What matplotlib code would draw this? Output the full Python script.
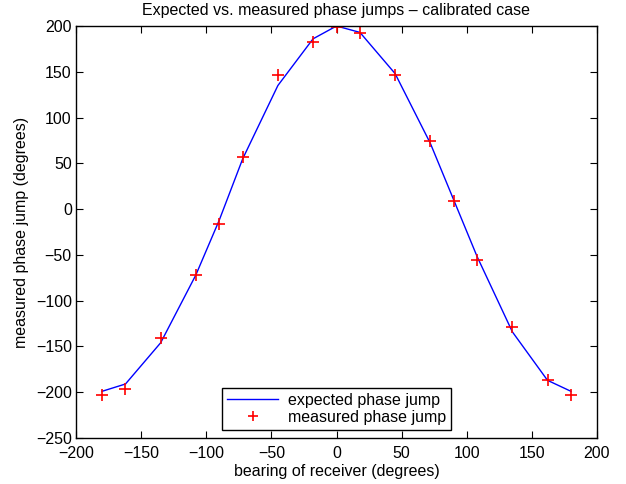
import matplotlib
matplotlib.use("Agg")
import matplotlib.pyplot as plt

plt.rcParams['font.family'] = ['Liberation Sans', 'DejaVu Sans']

bearing = [-180, -162, -135, -108, -90, -72, -45, -18, 0, 18, 45, 72, 90, 108, 135, 162, 180]
expected = [-199, -191, -146, -72, -12, 55, 135, 186, 200, 193, 148, 72, 10, -52, -134, -187, -199]
measured = [-203, -197, -141, -72, -16, 57, 146, 182, 199, 192, 146, 74, 9, -56, -129, -187, -203]

xticks = [-200, -150, -100, -50, 0, 50, 100, 150, 200]
yticks = [-250, -200, -150, -100, -50, 0, 50, 100, 150, 200]

W, H = 626, 484
fig = plt.figure(figsize=(W / 100, H / 100), dpi=100)
ax = fig.add_axes([76 / W, (H - 438) / H, (597 - 76) / W, (438 - 26) / H])

ax.plot(bearing, expected, color='#0000ff', lw=1.0, label='expected phase jump')
ax.plot(bearing, measured, ls='none', marker='+', color='#ff0000', ms=8.5, mew=1.2,
        label='measured phase jump')

FS = 11.5
ax.set_xlim(-200, 200)
ax.set_ylim(-250, 200)
ax.set_xticks(xticks)
ax.set_yticks(yticks)
ax.set_xticklabels([str(t).replace('-', '\u2212') for t in xticks])
ax.set_yticklabels([str(t).replace('-', '\u2212') for t in yticks])
ax.tick_params(direction='in', top=True, right=True, length=5, width=0.8,
               labelsize=FS)
ax.tick_params(axis='x', pad=6)
ax.tick_params(axis='y', pad=3)
for s in ax.spines.values():
    s.set_linewidth(1.0)

ax.set_xlabel('bearing of receiver (degrees)', fontsize=FS, labelpad=2)
ax.set_ylabel('measured phase jump (degrees)', fontsize=FS, labelpad=5)
ax.set_title('Expected vs. measured phase jumps \u2013 calibrated case', fontsize=FS, pad=8)

leg = ax.legend(loc='lower center', bbox_to_anchor=(0.5, 0.02), fontsize=FS,
                fancybox=False, edgecolor='black', framealpha=1,
                handlelength=3.2, borderpad=0.3, labelspacing=0.15, handletextpad=0.6,
                borderaxespad=0, markerscale=0.9)
leg.get_frame().set_linewidth(1.0)

fig.savefig('out.png', dpi=100)
